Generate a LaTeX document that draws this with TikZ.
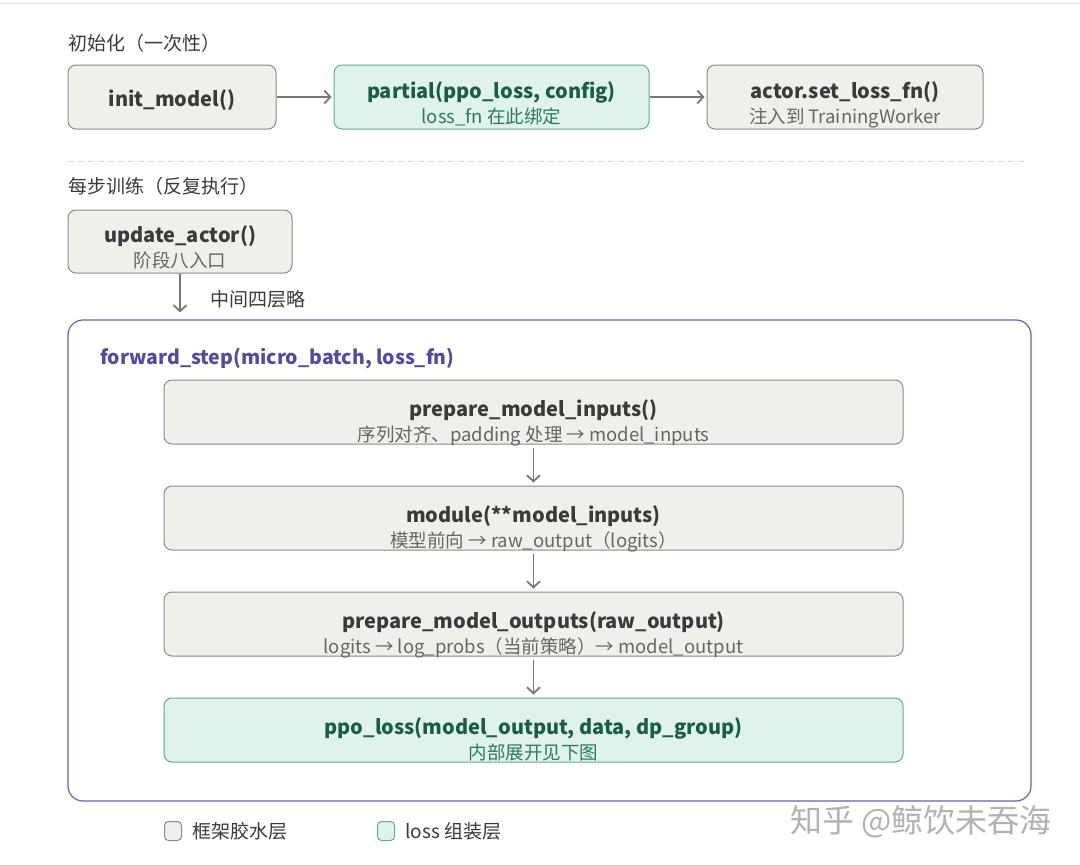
\documentclass[tikz,border=0pt]{standalone}
\usepackage{fontspec}
\setmainfont{Noto Sans CJK SC}
\usetikzlibrary{arrows.meta}
\definecolor{beige}{HTML}{F1EFEA}
\definecolor{beigeedge}{HTML}{8E8B86}
\definecolor{greenfill}{HTML}{DFF3EC}
\definecolor{greenedge}{HTML}{5FAE8E}
\definecolor{greentext}{HTML}{1B5C47}
\definecolor{greensub}{HTML}{2B7A5E}
\definecolor{textdark}{HTML}{3A3A3A}
\definecolor{textsub}{HTML}{666666}
\definecolor{arrgray}{HTML}{777777}
\definecolor{fwdpurple}{HTML}{6A60B0}
\definecolor{fwdtext}{HTML}{56499E}
\begin{document}
\begin{tikzpicture}[x=1pt,y=-1pt,
  glue/.style={draw=beigeedge, fill=beige, rounded corners=8pt, line width=1pt, inner sep=0pt},
  lossbox/.style={draw=greenedge, fill=greenfill, rounded corners=8pt, line width=1pt, inner sep=0pt},
  ttl/.style={inner sep=0pt, text height=15pt, text depth=5pt, text=textdark, font=\fontsize{20}{24}\selectfont\bfseries},
  sbt/.style={inner sep=0pt, text height=14pt, text depth=4.5pt, text=textsub, font=\fontsize{18.5}{22}\selectfont},
  gttl/.style={ttl, text=greentext},
  gsbt/.style={sbt, text=greensub},
  arr/.style={draw=arrgray, line width=1.8pt, -{Straight Barb[length=6pt,width=13pt,line width=1.8pt]}},
  heading/.style={anchor=west, text=textdark, inner sep=0pt, font=\fontsize{19}{22}\selectfont},
]
\useasboundingbox (0,0) rectangle (1080,865);
\fill[white] (0,0) rectangle (1080,865);
\draw[black!12, line width=1pt] (0,3) -- (1080,3);

% ---- initialisation ----
\node[heading] (h1) at (68,43) {初始化（一次性）};
\node[glue, minimum width=208pt, minimum height=64pt] (init) at (172,97) {};
\node[ttl] (init-t) at (172,101) {init\_model()};
\node[lossbox, minimum width=315pt, minimum height=64pt] (partial) at (491.5,97) {};
\node[gttl] (partial-t) at (491.5,93.5) {partial(ppo\_loss, config)};
\node[gsbt] (partial-s) at (491.5,118.5) {loss\_fn 在此绑定};
\node[glue, minimum width=276pt, minimum height=64pt] (setfn) at (845,97) {};
\node[ttl] (setfn-t) at (845,93.5) {actor.set\_loss\_fn()};
\node[sbt] (setfn-s) at (845,118.5) {注入到 TrainingWorker};
\draw[arr, shorten >=2pt] (init) -- (partial);
\draw[arr, shorten >=2pt] (partial) -- (setfn);

\draw[black!15, line width=1pt, dash pattern=on 6pt off 4pt] (68,161) -- (1025,161);

% ---- per-step training ----
\node[heading] (h2) at (68,186) {每步训练（反复执行）};
\node[glue, minimum width=224pt, minimum height=63pt] (update) at (180,241.5) {};
\node[ttl] (update-t) at (180,237.5) {update\_actor()};
\node[sbt] (update-s) at (180,262.5) {阶段八入口};

\node[draw=fwdpurple, fill=white, line width=1.2pt, rounded corners=15pt,
  minimum width=963pt, minimum height=481pt, inner sep=0pt] (fwd) at (549.5,560.5) {};
\draw[arr, shorten >=7pt] (update.south) -- (update.south |- fwd.north);
\node[heading] (skip) at (210,299) {中间四层略};

\node[anchor=west, text=fwdtext, inner sep=0pt, font=\fontsize{19.5}{24}\selectfont\bfseries] (fwdtitle) at (100,359)
  {forward\_step(micro\_batch, loss\_fn)};

\node[glue, minimum width=739pt, minimum height=64pt] (b1) at (533.5,412) {};
\node[ttl] (b1-t) at (533.5,411.5) {prepare\_model\_inputs()};
\node[sbt] (b1-s) at (533.5,436.5) {序列对齐、padding 处理 → model\_inputs};
\node[glue, minimum width=739pt, minimum height=64pt] (b2) at (533.5,518) {};
\node[ttl] (b2-t) at (533.5,517.5) {module(**model\_inputs)};
\node[sbt] (b2-s) at (533.5,542.5) {模型前向 → raw\_output（logits）};
\node[glue, minimum width=739pt, minimum height=64pt] (b3) at (533.5,624) {};
\node[ttl] (b3-t) at (533.5,623.5) {prepare\_model\_outputs(raw\_output)};
\node[sbt] (b3-s) at (533.5,648.5) {logits → log\_probs（当前策略）→ model\_output};
\node[lossbox, minimum width=739pt, minimum height=64pt] (b4) at (533.5,730) {};
\node[gttl] (b4-t) at (533.5,729.5) {ppo\_loss(model\_output, data, dp\_group)};
\node[gsbt] (b4-s) at (533.5,754.5) {内部展开见下图};

\draw[arr, shorten <=3pt, shorten >=3pt] (b1) -- (b2);
\draw[arr, shorten <=3pt, shorten >=3pt] (b2) -- (b3);
\draw[arr, shorten <=3pt, shorten >=3pt] (b3) -- (b4);

% ---- legend ----
\node[draw=beigeedge, fill=beige, line width=1pt, rounded corners=4pt, minimum width=17pt, minimum height=19pt, inner sep=0pt] (lg1) at (173,831) {};
\node[heading] (lg1t) at (192,831) {框架胶水层};
\node[draw=greenedge, fill=greenfill, line width=1pt, rounded corners=4pt, minimum width=17pt, minimum height=19pt, inner sep=0pt] (lg2) at (386,831) {};
\node[heading] (lg2t) at (405,831) {loss 组装层};

\node[anchor=west, text=black!30, inner sep=0pt, font=\fontsize{32}{34}\selectfont] (wm) at (790,822) {知乎 @鲸饮未吞海};
\end{tikzpicture}
\end{document}
